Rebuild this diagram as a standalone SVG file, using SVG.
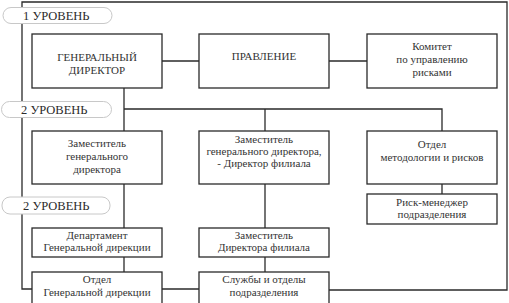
<svg xmlns="http://www.w3.org/2000/svg" width="509" height="303" viewBox="0 0 509 303">
<style>
.bg{fill:#ffffff}
.box{fill:#ffffff;stroke:#2a2a2a;stroke-width:1.3}
.ln{fill:none;stroke:#2a2a2a;stroke-width:1.3}
.pill{fill:#ffffff;stroke:#c8c8c8;stroke-width:1}
.t{font-size:11px;fill:#333333;text-anchor:middle}
.p{font-size:12.5px;fill:#2a2a2a}
</style>
<rect class="bg" x="0" y="0" width="509" height="303"/>
<g font-family="Liberation Serif, Times New Roman, serif">
<g id="connectors">
<path class="ln" d="M32,289 H22 V2 H507 V290 H329"/>
<path class="ln" d="M162,61 H199"/>
<path class="ln" d="M329,61 H367"/>
<path class="ln" d="M124,88 V131"/>
<path class="ln" d="M124,109 H442 V131"/>
<path class="ln" d="M265,109 V131"/>
<path class="ln" d="M124,184 V228"/>
<path class="ln" d="M124,257 V272"/>
<path class="ln" d="M265,184 V228"/>
<path class="ln" d="M265,257 V272"/>
<path class="ln" d="M442,184 V194"/>
<path class="ln" d="M162,289 H199"/>
</g>
<g id="level1">
<rect class="pill" x="3" y="7.5" width="109" height="16" rx="8"/>
<text class="p" x="23" y="19.5">1 УРОВЕНЬ</text>
</g>
<g id="level2a">
<rect class="pill" x="1.5" y="101.5" width="110" height="16" rx="8"/>
<text class="p" x="21" y="113.5">2 УРОВЕНЬ</text>
</g>
<g id="level2b">
<rect class="pill" x="2" y="197" width="108" height="17" rx="8"/>
<text class="p" x="23" y="209.5">2 УРОВЕНЬ</text>
</g>
<g id="gen-director">
<rect class="box" x="32" y="34" width="130" height="54"/>
<text class="t" x="97" y="61">ГЕНЕРАЛЬНЫЙ</text>
<text class="t" x="97" y="74">ДИРЕКТОР</text>
</g>
<g id="board">
<rect class="box" x="199" y="34" width="130" height="54"/>
<text class="t" x="264" y="60">ПРАВЛЕНИЕ</text>
</g>
<g id="risk-committee">
<rect class="box" x="367" y="34" width="130" height="54"/>
<text class="t" x="432" y="50">Комитет</text>
<text class="t" x="432" y="63">по управлению</text>
<text class="t" x="432" y="76">рисками</text>
</g>
<g id="deputy-gd">
<rect class="box" x="32" y="131" width="130" height="53"/>
<text class="t" x="97" y="147">Заместитель</text>
<text class="t" x="97" y="160">генерального</text>
<text class="t" x="97" y="173">директора</text>
</g>
<g id="deputy-branch">
<rect class="box" x="199" y="131" width="130" height="53"/>
<text class="t" x="264" y="143">Заместитель</text>
<text class="t" x="264" y="155">генерального директора,</text>
<text class="t" x="264" y="167">- Директор филиала</text>
</g>
<g id="method-dept">
<rect class="box" x="367" y="131" width="130" height="53"/>
<text class="t" x="432" y="148">Отдел</text>
<text class="t" x="432" y="161">методологии и рисков</text>
</g>
<g id="risk-manager">
<rect class="box" x="367" y="194" width="130" height="30"/>
<text class="t" x="432" y="206">Риск-менеджер</text>
<text class="t" x="432" y="218">подразделения</text>
</g>
<g id="gd-department">
<rect class="box" x="32" y="228" width="130" height="29"/>
<text class="t" x="97" y="238.5">Департамент</text>
<text class="t" x="97" y="251">Генеральной дирекции</text>
</g>
<g id="deputy-branch-director">
<rect class="box" x="199" y="228" width="130" height="29"/>
<text class="t" x="264" y="238.5">Заместитель</text>
<text class="t" x="264" y="251">Директора филиала</text>
</g>
<g id="gd-office">
<rect class="box" x="32" y="272" width="130" height="34"/>
<text class="t" x="97" y="283">Отдел</text>
<text class="t" x="97" y="295.5">Генеральной дирекции</text>
</g>
<g id="branch-services">
<rect class="box" x="199" y="272" width="130" height="34"/>
<text class="t" x="264" y="283">Службы и отделы</text>
<text class="t" x="264" y="295.5">подразделения</text>
</g>
</g>
</svg>
